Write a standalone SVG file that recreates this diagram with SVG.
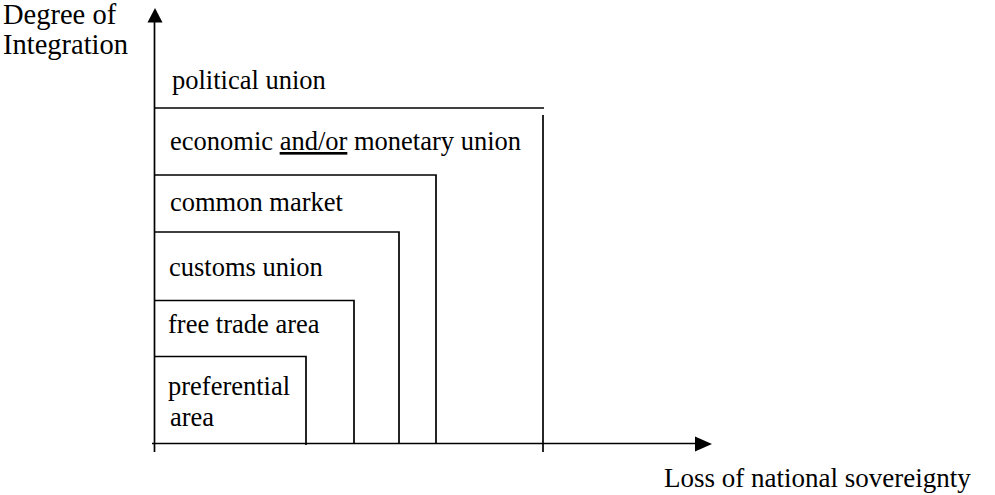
<svg xmlns="http://www.w3.org/2000/svg" width="995" height="495" viewBox="0 0 995 495">
<style>
text{font-family:"Liberation Serif","Times New Roman",serif;font-size:26.5px;fill:#000}
.yl{font-size:28.5px}
.xl{font-size:27px}
.ln{stroke:#000;stroke-width:1.7;fill:none}
.ah{fill:#000;stroke:none}
</style>
<rect width="995" height="495" fill="#fff"/>
<g id="axes">
<line class="ln" x1="154.5" y1="20" x2="154.5" y2="452"/>
<polygon class="ah" points="155,8 147.5,22.5 162.5,22.5"/>
<line class="ln" x1="152" y1="443.5" x2="697" y2="443.5"/>
<polygon class="ah" points="712,444 695,436.5 695,451.5"/>
<text class="yl" x="3" y="24">Degree of</text>
<text class="yl" x="3" y="54">Integration</text>
<text class="xl" x="664" y="487">Loss of national sovereignty</text>
</g>
<g id="political-union">
<polyline class="ln" points="154.5,108 544,108"/>
<line class="ln" x1="543" y1="115" x2="543" y2="452"/>
<text x="172" y="89">political union</text>
</g>
<g id="economic-union">
<polyline class="ln" points="154.5,175 436,175 436,444"/>
<text x="170" y="150">economic <tspan text-decoration="underline">and/or</tspan> monetary union</text>
</g>
<g id="common-market">
<polyline class="ln" points="154.5,232 399,232 399,444"/>
<text x="170" y="211">common market</text>
</g>
<g id="customs-union">
<polyline class="ln" points="154.5,300.5 354,300.5 354,444"/>
<text x="169" y="276">customs union</text>
</g>
<g id="free-trade-area">
<polyline class="ln" points="154.5,356.5 306,356.5 306,445"/>
<text x="168" y="333">free trade area</text>
</g>
<g id="preferential-area">
<text x="168" y="395">preferential</text>
<text x="170" y="426">area</text>
</g>
</svg>
